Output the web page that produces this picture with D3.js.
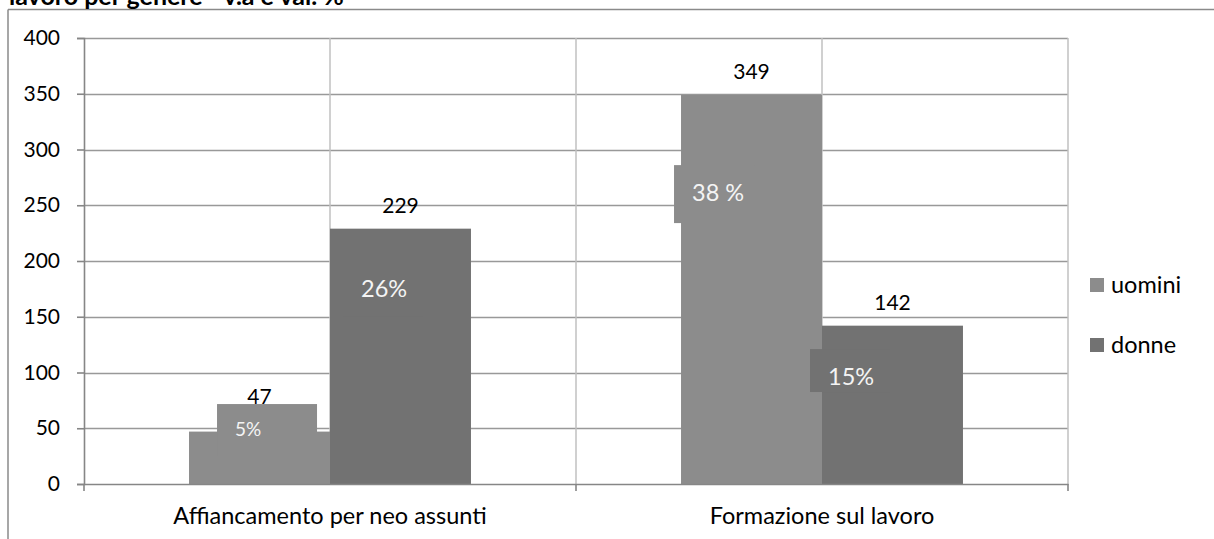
<!DOCTYPE html>
<html>
<head>
<meta charset="utf-8">
<script src="https://cdn.jsdelivr.net/npm/d3@7"></script>
<style>
  html, body { margin: 0; padding: 0; background: #fff; }
  svg { display: block; }
  text { font-family: Lato, "Liberation Sans", sans-serif; }
</style>
</head>
<body>
<svg id="chart" width="1214" height="539"></svg>
<script>
// Chart data
const categories = ["Affiancamento per neo assunti", "Formazione sul lavoro"];
const seriesNames = ["uomini", "donne"];
const uomini = [47, 349];
const donne = [229, 142];
const uominiPct = ["5%", "38 %"];
const donnePct = ["26%", "15%"];
const yTicks = [0, 50, 100, 150, 200, 250, 300, 350, 400];
const title = "lavoro per genere - v.a e val. %";

const colors = { uomini: "#8c8c8c", donne: "#727272" };

// Percentage label boxes: top/bottom in value units, dx in pixels from the bar's left edge
const pctBoxes = [
  { series: "uomini", cat: 0, dx: 28, w: 100, top: 71.7, bottom: 25, size: 19, ty: 32 },
  { series: "uomini", cat: 1, dx: -7, w: 80, top: 286, bottom: 234, size: 23.5, ty: 36 },
  { series: "donne", cat: 0, dx: 13, w: 80, top: 200, bottom: 150, size: 23.5, ty: 36 },
  { series: "donne", cat: 1, dx: -12, w: 80, top: 121, bottom: 82.5, size: 23.5, ty: 36 }
];
// Extra lift for value labels that sit above a label box
const valueLift = { uomini: [28, 16], donne: [16, 16] };

const svg = d3.select("#chart");
const plot = { left: 84, right: 1068, top: 38, bottom: 484 };

const x = d3.scaleBand().domain(categories).range([plot.left, plot.right]).padding(0);
const xs = d3.scaleBand().domain(seriesNames).range([0, x.bandwidth()])
  .paddingInner(0).paddingOuter(0.745);
const y = d3.scaleLinear().domain([0, 400]).range([plot.bottom, plot.top]);

// Outer frame (left and top edges)
svg.append("line").attr("x1", 8).attr("x2", 8).attr("y1", 9.5).attr("y2", 539)
  .attr("stroke", "#8a8a8a").attr("stroke-width", 1.5);
svg.append("line").attr("x1", 8).attr("x2", 1214).attr("y1", 9.5).attr("y2", 9.5)
  .attr("stroke", "#8a8a8a").attr("stroke-width", 1.5);

// Title, partly above the frame
svg.append("text").attr("x", 9).attr("y", 5)
  .attr("font-weight", "bold").attr("font-size", 25).attr("fill", "#000")
  .text(title);

// Horizontal gridlines
svg.append("g").selectAll("line").data(yTicks.filter(d => d > 0)).join("line")
  .attr("x1", plot.left).attr("x2", plot.right)
  .attr("y1", d => Math.round(y(d)) + 0.5).attr("y2", d => Math.round(y(d)) + 0.5)
  .attr("stroke", "#999").attr("stroke-width", 1.6);

// Vertical gridlines at half-category steps
const vLines = [];
categories.forEach(c => {
  vLines.push(x(c) + x.bandwidth() / 2);
  vLines.push(x(c) + x.bandwidth());
});
svg.append("g").selectAll("line").data(vLines).join("line")
  .attr("x1", d => d).attr("x2", d => d)
  .attr("y1", plot.top).attr("y2", plot.bottom)
  .attr("stroke", "#c0c0c0").attr("stroke-width", 1.5);

// Bars
const barData = [];
categories.forEach((c, i) => {
  barData.push({ cat: c, ci: i, series: "uomini", value: uomini[i] });
  barData.push({ cat: c, ci: i, series: "donne", value: donne[i] });
});
svg.append("g").selectAll("rect").data(barData).join("rect")
  .attr("x", d => x(d.cat) + xs(d.series))
  .attr("y", d => y(d.value))
  .attr("width", xs.bandwidth())
  .attr("height", d => y(0) - y(d.value))
  .attr("fill", d => colors[d.series]);

// Percentage label boxes
pctBoxes.forEach(b => {
  const bx = x(categories[b.cat]) + xs(b.series) + b.dx;
  svg.append("rect")
    .attr("x", bx).attr("y", y(b.top))
    .attr("width", b.w).attr("height", y(b.bottom) - y(b.top))
    .attr("fill", colors[b.series]);
});

// Y axis
const yAxis = svg.append("g").attr("transform", `translate(${plot.left},0)`)
  .call(d3.axisLeft(y).tickValues(yTicks).tickSize(7).tickPadding(17));
yAxis.select(".domain").attr("stroke", "#868686").attr("stroke-width", 1.6);
yAxis.selectAll(".tick line").attr("stroke", "#868686").attr("stroke-width", 1.6);
yAxis.selectAll(".tick text").attr("font-size", 21).attr("fill", "#000")
  .attr("font-family", "Lato, sans-serif");

// X axis
const xAxis = svg.append("g").attr("transform", `translate(0,${plot.bottom})`)
  .call(d3.axisBottom(x).tickSize(0).tickPadding(23));
xAxis.select(".domain").attr("stroke", "#868686").attr("stroke-width", 1.6);
xAxis.selectAll(".tick text").attr("font-size", 23.5).attr("fill", "#000")
  .attr("font-family", "Lato, sans-serif");
// Category boundary ticks
const bounds = [plot.left, ...categories.map(c => x(c) + x.bandwidth())];
svg.append("g").selectAll("line").data(bounds).join("line")
  .attr("x1", d => d).attr("x2", d => d)
  .attr("y1", plot.bottom).attr("y2", plot.bottom + 7)
  .attr("stroke", "#868686").attr("stroke-width", 1.6);

// Value labels above bars
svg.append("g").selectAll("text").data(barData).join("text")
  .attr("x", d => x(d.cat) + xs(d.series) + xs.bandwidth() / 2)
  .attr("y", d => y(d.value) - valueLift[d.series][d.ci])
  .attr("text-anchor", "middle").attr("font-size", 21).attr("fill", "#000")
  .text(d => d.value);

// Percentage texts
pctBoxes.forEach(b => {
  const label = b.series === "uomini" ? uominiPct[b.cat] : donnePct[b.cat];
  const bx = x(categories[b.cat]) + xs(b.series) + b.dx;
  svg.append("text").attr("x", bx + 18).attr("y", y(b.top) + b.ty)
    .attr("font-size", b.size).attr("fill", "#f4f4f4").text(label);
});

// Legend
const legend = svg.append("g");
seriesNames.forEach((s, i) => {
  const ly = 278 + i * 60;
  legend.append("rect").attr("x", 1090).attr("y", ly).attr("width", 14).attr("height", 14)
    .attr("fill", colors[s]);
  legend.append("text").attr("x", 1111).attr("y", ly + 15)
    .attr("font-size", 23.5).attr("fill", "#000").text(s);
});
</script>
</body>
</html>
